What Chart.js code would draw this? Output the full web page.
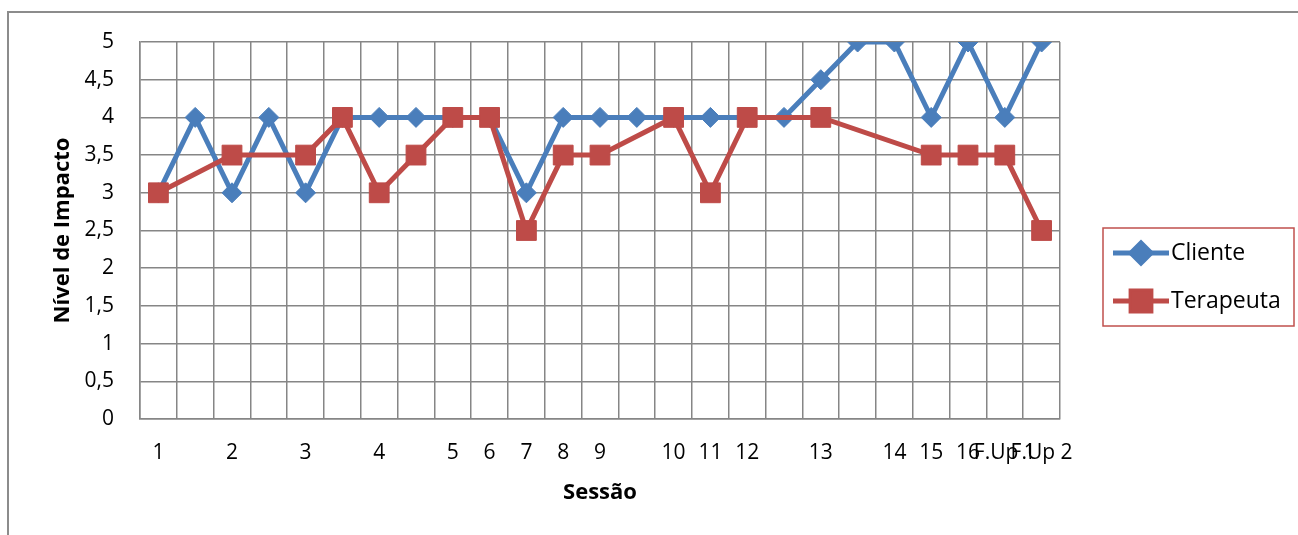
<!DOCTYPE html>
<html>
<head>
<meta charset="utf-8">
<script src="https://cdn.jsdelivr.net/npm/chart.js@4.4.1/dist/chart.umd.min.js"></script>
<style>
  html, body { margin: 0; padding: 0; background: #fff; }
  #wrap { position: relative; width: 1298px; height: 535px; overflow: hidden; }
  canvas { display: block; }
</style>
</head>
<body>
<div id="wrap"><canvas id="c" width="1298" height="535"></canvas></div>
<script>
// Session labels (some slots have no label)
const sessions = ['1', '', '2', '', '3', '', '4', '', '5', '6', '7', '8', '9', '', '10', '11', '12', '', '13', '', '14', '15', '16', 'F.Up 1', 'F.Up 2'];

// Impact ratings given by the client
const cliente = [3, 4, 3, 4, 3, 4, 4, 4, 4, 4, 3, 4, 4, 4, 4, 4, 4, 4, 4.5, 5, 5, 4, 5, 4, 5];

// Impact ratings given by the therapist (null = not rated)
const terapeuta = [3, null, 3.5, null, 3.5, 4, 3, 3.5, 4, 4, 2.5, 3.5, 3.5, null, 4, 3, 4, null, 4, null, null, 3.5, 3.5, 3.5, 2.5];

// Y axis ticks
const yTicks = [0, 0.5, 1, 1.5, 2, 2.5, 3, 3.5, 4, 4.5, 5];

const BLUE = '#4a7ebb';
const RED = '#be4b48';
const GRID = '#868686';
const FONT = "'Open Sans', 'Liberation Sans', sans-serif";

// Outer chart frame, clipped by the page on the right and bottom
const framePlugin = {
  id: 'frame',
  beforeDraw(chart) {
    const ctx = chart.ctx;
    ctx.save();
    ctx.strokeStyle = '#8c8c8c';
    ctx.lineWidth = 2;
    ctx.strokeRect(8, 12, 2000, 2000);
    ctx.restore();
  }
};

// Boxed legend on the right
const boxLegend = {
  id: 'boxLegend',
  afterDraw(chart) {
    const ctx = chart.ctx;
    const box = { x: 1103, y: 228, w: 191, h: 98 };
    ctx.save();
    ctx.strokeStyle = '#c0504d';
    ctx.lineWidth = 1.5;
    ctx.strokeRect(box.x, box.y, box.w, box.h);
    const rows = [253, 301];
    chart.data.datasets.forEach((ds, i) => {
      const y = rows[i];
      ctx.strokeStyle = ds.borderColor;
      ctx.lineWidth = 5;
      ctx.beginPath();
      ctx.moveTo(1113, y);
      ctx.lineTo(1169, y);
      ctx.stroke();
      Chart.helpers.drawPoint(ctx, {
        pointStyle: ds.pointStyle,
        radius: ds.pointRadius,
        borderWidth: 1
      }, 1141, y);
      ctx.fillStyle = ds.pointBackgroundColor;
      ctx.strokeStyle = ds.pointBorderColor;
      ctx.fill();
      ctx.fillStyle = '#000';
      ctx.font = '23px ' + FONT;
      ctx.textBaseline = 'middle';
      ctx.textAlign = 'left';
      ctx.fillText(ds.label, 1171, y);
    });
    ctx.restore();
  }
};

new Chart(document.getElementById('c'), {
  type: 'line',
  data: {
    labels: sessions,
    datasets: [
      {
        label: 'Cliente',
        data: cliente,
        borderColor: BLUE,
        backgroundColor: BLUE,
        borderWidth: 5,
        pointStyle: 'rectRot',
        pointRadius: 10,
        pointBackgroundColor: BLUE,
        pointBorderColor: BLUE,
        pointBorderWidth: 1,
        tension: 0,
        order: 2
      },
      {
        label: 'Terapeuta',
        data: terapeuta,
        borderColor: RED,
        backgroundColor: RED,
        borderWidth: 5,
        pointStyle: 'rect',
        pointRadius: 14,
        pointBackgroundColor: RED,
        pointBorderColor: RED,
        pointBorderWidth: 1,
        spanGaps: true,
        tension: 0,
        order: 1
      }
    ]
  },
  options: {
    responsive: false,
    animation: false,
    devicePixelRatio: 1,
    layout: { padding: { top: 42, right: 238, left: 0, bottom: 0 } },
    plugins: {
      legend: { display: false },
      tooltip: { enabled: false }
    },
    scales: {
      x: {
        offset: true,
        grid: { offset: true, color: GRID, lineWidth: 1.5, drawTicks: false },
        border: { color: GRID, width: 1.5 },
        ticks: {
          autoSkip: false,
          maxRotation: 0,
          minRotation: 0,
          padding: 21,
          color: '#000',
          font: { family: FONT, size: 21 }
        },
        title: {
          display: true,
          text: 'Sessão',
          color: '#000',
          font: { family: FONT, size: 22, weight: 'bold' },
          padding: { top: 0, bottom: 29 }
        },
        afterFit(scale) { scale.height = 535 - 419; }
      },
      y: {
        min: 0,
        max: 5,
        afterBuildTicks(scale) { scale.ticks = yTicks.map(v => ({ value: v })); },
        grid: { color: GRID, lineWidth: 1.5, drawTicks: false },
        border: { color: GRID, width: 1.5 },
        ticks: {
          padding: 26,
          color: '#000',
          font: { family: FONT, size: 21 },
          callback: v => String(v).replace('.', ',')
        },
        title: {
          display: true,
          text: 'Nível de Impacto',
          color: '#000',
          font: { family: FONT, size: 22, weight: 'bold' },
          padding: { top: 50, bottom: 0 }
        },
        afterFit(scale) { scale.width = 140; }
      }
    }
  },
  plugins: [framePlugin, boxLegend]
});
</script>
</body>
</html>
